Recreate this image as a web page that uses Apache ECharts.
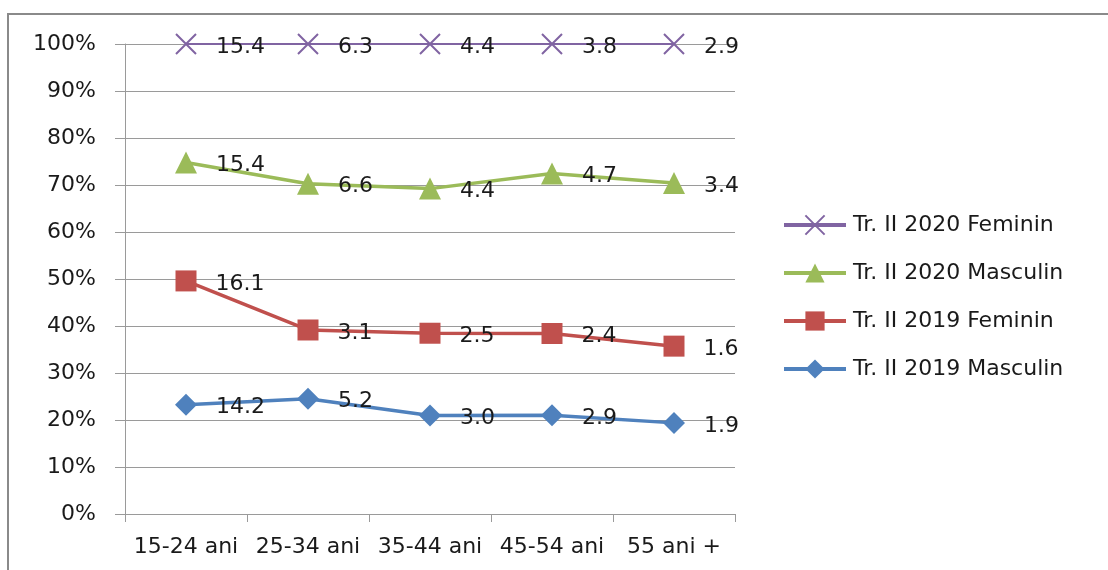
<!DOCTYPE html>
<html>
<head>
<meta charset="utf-8">
<script src="https://cdn.jsdelivr.net/npm/echarts@6/dist/echarts.min.js"></script>
<style>
  html, body { margin: 0; padding: 0; background: #fff; }
  #chart { width: 1108px; height: 570px; }
</style>
</head>
<body>
<div id="chart"></div>
<script>
// Age groups on the category axis
const categories = ['15-24 ani', '25-34 ani', '35-44 ani', '45-54 ani', '55 ani +'];

// Values per group and series (shown as labels; the lines are 100% stacked)
const masculin2019 = [14.2, 5.2, 3.0, 2.9, 1.9];
const feminin2019  = [16.1, 3.1, 2.5, 2.4, 1.6];
const masculin2020 = [15.4, 6.6, 4.4, 4.7, 3.4];
const feminin2020  = [15.4, 6.3, 4.4, 3.8, 2.9];

const yTicks = [0, 10, 20, 30, 40, 50, 60, 70, 80, 90, 100];

const FONT = 'DejaVu Sans';
const FSIZE = 22;
const TEXT = '#1a1a1a';
const GRID = '#9a9a9a';

// Share of each series within its age group, in percent
const all = [masculin2019, feminin2019, masculin2020, feminin2020];
const totals = categories.map((_, i) => all.reduce((s, arr) => s + arr[i], 0));
const share = arr => arr.map((v, i) => v / totals[i] * 100);

const crossPath = 'path://M0,0L10,10M10,0L0,10';

function makeSeries(name, values, color, symbol, symbolSize, lineWidth, hollow) {
  return {
    name: name,
    type: 'line',
    stack: 'total',
    data: share(values),
    symbol: symbol,
    symbolSize: symbolSize,
    showAllSymbol: true,
    color: color,
    lineStyle: { color: color, width: lineWidth },
    itemStyle: hollow
      ? { color: 'rgba(0,0,0,0)', borderColor: color, borderWidth: 2 }
      : { color: color },
    emphasis: { disabled: true },
    label: {
      show: true,
      position: 'right',
      distance: 19,
      offset: [0, 3],
      formatter: p => values[p.dataIndex].toFixed(1),
      fontFamily: FONT,
      fontSize: FSIZE,
      color: TEXT
    },
    z: 3
  };
}

const chart = echarts.init(document.getElementById('chart'), null, { renderer: 'canvas' });

chart.setOption({
  animation: false,
  backgroundColor: '#ffffff',
  graphic: [{
    type: 'polyline',
    shape: { points: [[8, 600], [8, 14], [1108, 14]] },
    style: { stroke: '#8a8a8a', lineWidth: 2, fill: null },
    silent: true
  }],
  grid: { left: 125, right: 373, top: 44, bottom: 56, containLabel: false },
  legend: {
    orient: 'vertical',
    left: 777,
    top: 209,
    itemWidth: 62,
    itemHeight: 24,
    itemGap: 26,
    lineStyle: { width: 4 },
    data: ['Tr. II 2020 Feminin', 'Tr. II 2020 Masculin', 'Tr. II 2019 Feminin', 'Tr. II 2019 Masculin'],
    textStyle: { fontFamily: FONT, fontSize: FSIZE, color: TEXT, padding: [0, 0, 0, 2] },
    selectedMode: false
  },
  xAxis: {
    type: 'category',
    data: categories,
    boundaryGap: true,
    axisLine: { show: true, lineStyle: { color: GRID, width: 1 } },
    axisTick: { show: true, length: 8, lineStyle: { color: GRID } },
    axisLabel: { fontFamily: FONT, fontSize: FSIZE, color: TEXT, margin: 22, interval: 0 },
    splitLine: { show: false }
  },
  yAxis: {
    type: 'value',
    min: yTicks[0],
    max: yTicks[yTicks.length - 1],
    interval: yTicks[1] - yTicks[0],
    axisLine: { show: true, lineStyle: { color: GRID, width: 1 } },
    axisTick: { show: true, length: 10, lineStyle: { color: GRID } },
    axisLabel: { fontFamily: FONT, fontSize: FSIZE, color: TEXT, margin: 29, formatter: '{value}%' },
    splitLine: { show: true, lineStyle: { color: GRID, width: 1 } }
  },
  series: [
    makeSeries('Tr. II 2019 Masculin', masculin2019, '#4F81BD', 'diamond', 22, 3.5, false),
    makeSeries('Tr. II 2019 Feminin', feminin2019, '#C0504D', 'rect', 21, 3.5, false),
    makeSeries('Tr. II 2020 Masculin', masculin2020, '#9BBB59', 'triangle', 22, 3.5, false),
    makeSeries('Tr. II 2020 Feminin', feminin2020, '#8064A2', crossPath, 20, 2, true)
  ]
});
</script>
</body>
</html>
